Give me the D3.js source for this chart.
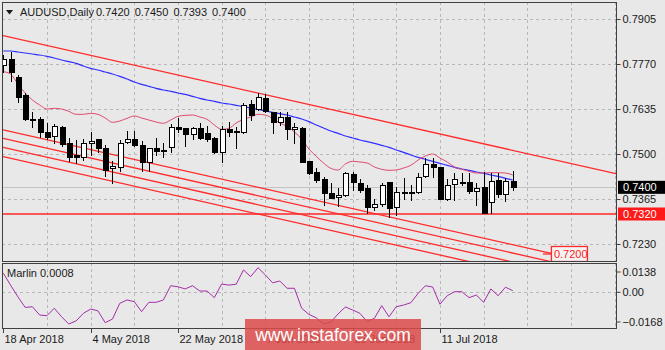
<!DOCTYPE html>
<html>
<head>
<meta charset="utf-8">
<script src="https://cdn.jsdelivr.net/npm/d3@7"></script>
<style>
  html, body { margin: 0; padding: 0; background: #e8e8e8; }
  svg { display: block; font-family: "Liberation Sans", Arial, sans-serif; }
</style>
</head>
<body>
<svg id="chart" width="665" height="350"></svg>
<script>
// ---- AUDUSD daily candles, 18 Apr 2018 .. 25 Jul 2018 ----
const symbolName = "AUDUSD,Daily";
const opens  = [0.7767,0.7785,0.7732,0.7677,0.7606,0.7606,0.7566,0.7555,0.7580,0.7532,
                0.7497,0.7492,0.7532,0.7544,0.7517,0.7457,0.7460,0.7536,0.7545,0.7527,
                0.7475,0.7517,0.7511,0.7522,0.7582,0.7577,0.7560,0.7577,0.7562,0.7547,
                0.7505,0.7575,0.7570,0.7565,0.7650,0.7634,0.7667,0.7627,0.7597,0.7612,
                0.7574,0.7577,0.7480,0.7447,0.7425,0.7384,0.7370,0.7377,0.7440,0.7412,
                0.7397,0.7342,0.7350,0.7417,0.7342,0.7385,0.7384,0.7385,0.7434,0.7470,
                0.7460,0.7364,0.7409,0.7415,0.7417,0.7389,0.7400,0.7357,0.7422,0.7380,
                0.7420];
const highs  = [0.7797,0.7807,0.7737,0.7682,0.7626,0.7610,0.7592,0.7590,0.7584,0.7547,
                0.7542,0.7545,0.7566,0.7546,0.7527,0.7480,0.7542,0.7570,0.7570,0.7539,
                0.7519,0.7549,0.7532,0.7590,0.7609,0.7577,0.7582,0.7594,0.7584,0.7550,
                0.7584,0.7595,0.7582,0.7654,0.7662,0.7682,0.7680,0.7627,0.7627,0.7627,
                0.7592,0.7580,0.7480,0.7457,0.7432,0.7412,0.7397,0.7447,0.7447,0.7424,
                0.7407,0.7364,0.7412,0.7417,0.7402,0.7427,0.7407,0.7444,0.7487,0.7487,
                0.7460,0.7424,0.7442,0.7442,0.7442,0.7412,0.7445,0.7442,0.7442,0.7427,
                0.7450];
const lows   = [0.7746,0.7720,0.7655,0.7602,0.7580,0.7552,0.7544,0.7532,0.7524,0.7480,
                0.7474,0.7482,0.7497,0.7507,0.7434,0.7414,0.7450,0.7532,0.7524,0.7450,
                0.7450,0.7497,0.7490,0.7505,0.7567,0.7525,0.7544,0.7544,0.7539,0.7502,
                0.7477,0.7555,0.7517,0.7562,0.7602,0.7632,0.7625,0.7562,0.7587,0.7545,
                0.7532,0.7475,0.7440,0.7417,0.7347,0.7369,0.7344,0.7375,0.7392,0.7386,
                0.7324,0.7332,0.7344,0.7312,0.7317,0.7364,0.7362,0.7382,0.7432,0.7430,
                0.7364,0.7362,0.7362,0.7407,0.7382,0.7347,0.7322,0.7322,0.7372,0.7360,
                0.7393];
const closes = [0.7785,0.7745,0.7672,0.7604,0.7604,0.7565,0.7552,0.7584,0.7530,0.7490,
                0.7492,0.7532,0.7540,0.7519,0.7452,0.7464,0.7532,0.7545,0.7526,0.7477,
                0.7517,0.7510,0.7510,0.7582,0.7574,0.7560,0.7577,0.7549,0.7546,0.7505,
                0.7575,0.7567,0.7569,0.7647,0.7617,0.7670,0.7629,0.7597,0.7612,0.7575,
                0.7580,0.7477,0.7442,0.7422,0.7382,0.7369,0.7378,0.7444,0.7417,0.7392,
                0.7340,0.7350,0.7407,0.7337,0.7385,0.7383,0.7386,0.7430,0.7470,0.7460,
                0.7364,0.7407,0.7424,0.7416,0.7390,0.7399,0.7324,0.7419,0.7380,0.7420,
                0.7400];

// slow moving average (blue)
const maSlow = [0.7809,0.7809,0.7806,0.7803,0.7800,0.7797,0.7793,0.7788,0.7782,0.7777,
                0.7772,0.7764,0.7757,0.7752,0.7746,0.7740,0.7733,0.7725,0.7716,0.7709,
                0.7703,0.7697,0.7692,0.7688,0.7683,0.7679,0.7673,0.7667,0.7662,0.7658,
                0.7653,0.7650,0.7646,0.7642,0.7638,0.7634,0.7629,0.7625,0.7621,0.7617,
                0.7611,0.7605,0.7597,0.7587,0.7578,0.7569,0.7562,0.7554,0.7548,0.7542,
                0.7537,0.7532,0.7526,0.7520,0.7512,0.7505,0.7497,0.7490,0.7484,0.7478,
                0.7472,0.7466,0.7460,0.7455,0.7451,0.7446,0.7442,0.7437,0.7433,0.7427,
                0.7422];
// fast moving average (pink)
const maFast = [0.7747,0.7740,0.7710,0.7683,0.7662,0.7647,0.7635,0.7637,0.7635,0.7628,
                0.7619,0.7619,0.7622,0.7619,0.7608,0.7595,0.7599,0.7607,0.7614,0.7608,
                0.7602,0.7596,0.7592,0.7602,0.7613,0.7616,0.7617,0.7611,0.7604,0.7587,
                0.7574,0.7577,0.7593,0.7604,0.7611,0.7619,0.7617,0.7607,0.7593,0.7583,
                0.7566,0.7545,0.7515,0.7493,0.7473,0.7457,0.7452,0.7470,0.7478,0.7476,
                0.7473,0.7461,0.7454,0.7451,0.7452,0.7458,0.7466,0.7482,0.7494,0.7500,
                0.7488,0.7476,0.7461,0.7454,0.7448,0.7443,0.7443,0.7444,0.7444,0.7443,
                0.7437];
// Marlin oscillator
const marlin = [0.0090,0.0034,-0.0021,-0.0071,-0.0068,-0.0107,-0.0110,-0.0075,-0.0115,-0.0149,
                -0.0135,-0.0099,-0.0079,-0.0087,-0.0143,-0.0126,-0.0052,-0.0036,-0.0044,-0.0091,
                -0.0047,-0.0047,-0.0036,0.0031,0.0026,0.0016,0.0031,0.0006,0.0006,-0.0025,
                0.0039,0.0034,0.0038,0.0105,0.0074,0.0116,0.0082,0.0045,0.0053,0.0019,
                0.0019,-0.0075,-0.0104,-0.0120,-0.0149,-0.0140,-0.0102,-0.0069,-0.0083,-0.0099,
                -0.0138,-0.0122,-0.0063,-0.0115,-0.0068,-0.0060,-0.0049,-0.0005,0.0031,0.0025,
                -0.0056,-0.0016,0.0003,0.0003,-0.0025,-0.0013,-0.0047,0.0016,-0.0016,0.0024,
                0.0008];

const priceTicks  = [0.7905, 0.7770, 0.7635, 0.7500, 0.7365, 0.7230];
const marlinTicks = [0.0138, 0.00, -0.0168];
const dateTickLabels = ["18 Apr 2018", "4 May 2018", "22 May 2018", "7 Jun 2018", "25 Jun 2018", "11 Jul 2018"];

const bidPrice = 0.7400;
const supportLevel = 0.7320;
const targetLevel = 0.7200;
// trend channel: [bar, price] anchor pairs
const channelUpper = [[0, 0.7855], [84, 0.7442]];
const channelLower = [
  [[0, 0.7572], [84, 0.7159]],
  [[0, 0.7547], [84, 0.7134]],
  [[0, 0.7520], [84, 0.7107]],
  [[0, 0.7492], [84, 0.7079]]
];
const targetBar = 74.7;

// ---- trading-day calendar (weekdays) ----
const fmtDay = d3.utcFormat("%-d %b %Y");
const days = d3.utcDays(new Date(Date.UTC(2018, 3, 18)), new Date(Date.UTC(2018, 6, 26)))
  .filter(d => d.getUTCDay() !== 0 && d.getUTCDay() !== 6);
const bars = days.map((d, i) => ({
  i, date: d, o: opens[i], h: highs[i], l: lows[i], c: closes[i]
}));

// ---- layout ----
const plotL = 2, plotR = 617;
const mainT = 2, mainB = 261;
const indT = 263, indB = 328;

const x  = d3.scaleLinear().domain([0, 84]).range([3.3, 614.6]);
const y  = d3.scaleLinear().domain([0.71790, 0.79560]).range([mainB, mainT]);
const yM = d3.scaleLinear().domain([-0.0168, 0.0138]).range([indB, indT]);

const svg = d3.select("#chart");
const bg = "#e8e8e8", gridCol = "#b8b8b8", frameCol = "#404040", textCol = "#1a1a1a";

svg.append("rect").attr("width", 665).attr("height", 350).attr("fill", bg);

const defs = svg.append("defs");
defs.append("clipPath").attr("id", "clipMain").append("rect")
  .attr("x", plotL).attr("y", mainT).attr("width", plotR - plotL).attr("height", mainB - mainT);
defs.append("clipPath").attr("id", "clipInd").append("rect")
  .attr("x", plotL).attr("y", indT).attr("width", plotR - plotL).attr("height", indB - indT);

const px = v => Math.round(v) + 0.5;

// ---- grid ----
const gridBars = d3.range(6, 85, 6);
const grid = svg.append("g").attr("stroke", gridCol).attr("stroke-dasharray", "3,3")
  .attr("shape-rendering", "crispEdges");
gridBars.forEach(b => {
  grid.append("line").attr("x1", px(x(b))).attr("x2", px(x(b))).attr("y1", mainT).attr("y2", mainB);
  grid.append("line").attr("x1", px(x(b))).attr("x2", px(x(b))).attr("y1", indT).attr("y2", indB);
});
priceTicks.forEach(p => {
  grid.append("line").attr("x1", plotL).attr("x2", plotR).attr("y1", px(y(p))).attr("y2", px(y(p)));
});
grid.append("line").attr("x1", plotL).attr("x2", plotR).attr("y1", px(yM(0))).attr("y2", px(yM(0)));

// ---- main panel ----
const main = svg.append("g").attr("clip-path", "url(#clipMain)");

// bid line
main.append("line").attr("x1", plotL).attr("x2", plotR)
  .attr("y1", px(y(bidPrice))).attr("y2", px(y(bidPrice)))
  .attr("stroke", "#c4c4c4").attr("shape-rendering", "crispEdges");

// support level
main.append("line").attr("x1", plotL).attr("x2", plotR)
  .attr("y1", y(supportLevel)).attr("y2", y(supportLevel))
  .attr("stroke", "#ff2828").attr("stroke-width", 1.3);

// trend channel lines, extended across the panel
function extLine(a, b) {
  const slope = (b[1] - a[1]) / (b[0] - a[0]);
  const b0 = x.invert(plotL), b1 = x.invert(plotR);
  return [[b0, a[1] + slope * (b0 - a[0])], [b1, a[1] + slope * (b1 - a[0])]];
}
const trend = d3.line().x(d => x(d[0])).y(d => y(d[1]));
main.append("path").attr("d", trend(extLine(...channelUpper)))
  .attr("fill", "none").attr("stroke", "#ff2a2a").attr("stroke-width", 1.3);
channelLower.forEach(seg => {
  main.append("path").attr("d", trend(extLine(...seg)))
    .attr("fill", "none").attr("stroke", "#ff2a2a").attr("stroke-width", 1.3);
});

// moving averages
const maLine = arr => d3.line().x((d, i) => x(i)).y(d => y(d)).curve(d3.curveMonotoneX)(arr);
main.append("path").attr("d", maLine(maSlow)).attr("fill", "none")
  .attr("stroke", "#2f2fff").attr("stroke-width", 1.2);
main.append("path").attr("d", maLine(maFast)).attr("fill", "none")
  .attr("stroke", "#e04a6c").attr("stroke-width", 1);

// candles
const candles = main.append("g").attr("shape-rendering", "crispEdges");
bars.forEach(b => {
  const cx = px(x(b.i));
  candles.append("line").attr("x1", cx).attr("x2", cx)
    .attr("y1", Math.round(y(b.h))).attr("y2", Math.round(y(b.l)) + 1)
    .attr("stroke", "#000");
  const top = Math.round(y(Math.max(b.o, b.c)));
  const bot = Math.round(y(Math.min(b.o, b.c)));
  const bull = b.c > b.o;
  candles.append("rect")
    .attr("x", cx - 2.5).attr("y", top + 0.5)
    .attr("width", 5).attr("height", Math.max(bot - top, 0.5))
    .attr("fill", bull ? "#ffffff" : "#000000")
    .attr("stroke", "#000");
});

// target price label at 0.7200
const tx = x(targetBar), ty = y(targetLevel);
main.append("line").attr("x1", tx - 4).attr("x2", tx + 5).attr("y1", ty).attr("y2", ty)
  .attr("stroke", "#ff2a2a").attr("stroke-width", 1.3);
main.append("rect").attr("x", tx + 4.5).attr("y", ty - 7.5).attr("width", 36).attr("height", 15)
  .attr("fill", "#f4f4f4").attr("stroke", "#ff2a2a").attr("stroke-width", 1.3);
main.append("text").attr("x", tx + 7).attr("y", ty + 4).attr("font-size", 11)
  .attr("fill", "#ff2020").text(d3.format(".4f")(targetLevel));

// ---- indicator panel ----
const ind = svg.append("g").attr("clip-path", "url(#clipInd)");
ind.append("path")
  .attr("d", d3.line().x((d, i) => x(i)).y(d => yM(d))(marlin))
  .attr("fill", "none").attr("stroke", "#a42ea8").attr("stroke-width", 1);
svg.append("text").attr("x", 7).attr("y", 277).attr("font-size", 11).attr("fill", textCol)
  .text("Marlin " + d3.format(".4f")(marlin[marlin.length - 1]));

// ---- frames ----
svg.append("rect").attr("x", plotL + 0.5).attr("y", mainT + 0.5)
  .attr("width", plotR - plotL - 1).attr("height", mainB - mainT)
  .attr("fill", "none").attr("stroke", frameCol).attr("shape-rendering", "crispEdges");
svg.append("rect").attr("x", plotL + 0.5).attr("y", indT + 0.5)
  .attr("width", plotR - plotL - 1).attr("height", indB - indT)
  .attr("fill", "none").attr("stroke", frameCol).attr("shape-rendering", "crispEdges");

// ---- price axis ----
const yAxis = d3.axisRight(y).tickValues(priceTicks).tickFormat(d3.format(".4f"))
  .tickSize(4).tickPadding(2);
const ya = svg.append("g").attr("transform", `translate(${plotR - 0.5},0)`).call(yAxis);
ya.select(".domain").remove();
ya.selectAll("line").attr("stroke", frameCol);
ya.selectAll("text").attr("font-size", 11).attr("fill", textCol)
  .attr("font-family", "Liberation Sans, Arial, sans-serif");

// price tags on the axis
function priceTag(p, fill) {
  const g = svg.append("g");
  g.append("rect").attr("x", plotR + 1).attr("y", y(p) - 6.5).attr("width", 47).attr("height", 13)
    .attr("fill", fill);
  g.append("text").attr("x", plotR + 6).attr("y", y(p) + 4).attr("font-size", 11)
    .attr("fill", "#ffffff").text(d3.format(".4f")(p));
}
priceTag(bidPrice, "#000000");
priceTag(supportLevel, "#ff1a1a");

// ---- Marlin axis ----
const mAxis = d3.axisRight(yM).tickValues(marlinTicks)
  .tickFormat(d => d === 0 ? "0.00" : d3.format(".4f")(d)).tickSize(4).tickPadding(2);
const ma = svg.append("g").attr("transform", `translate(${plotR - 0.5},0)`).call(mAxis);
ma.select(".domain").remove();
ma.selectAll("line").attr("stroke", frameCol);
ma.selectAll("text").attr("font-size", 11).attr("fill", textCol)
  .attr("font-family", "Liberation Sans, Arial, sans-serif");
// keep the extreme labels inside the panel height
ma.selectAll(".tick").attr("transform", d => {
  let ty = yM(d);
  if (d === marlinTicks[0]) ty += 9;
  if (d === marlinTicks[2]) ty -= 6;
  return `translate(0,${ty})`;
});

// ---- date axis ----
const dateTicks = bars.filter(b => dateTickLabels.includes(fmtDay(b.date)));
const da = svg.append("g");
dateTicks.forEach(b => {
  const tx0 = px(x(b.i));
  da.append("line").attr("x1", tx0).attr("x2", tx0).attr("y1", indB).attr("y2", indB + 5)
    .attr("stroke", frameCol).attr("shape-rendering", "crispEdges");
  da.append("text").attr("x", tx0 + 1).attr("y", 343).attr("font-size", 11)
    .attr("fill", textCol).text(fmtDay(b.date));
});

// ---- title ----
svg.append("path").attr("d", "M6,10 L13,10 L9.5,14.5 Z").attr("fill", "#1a1a1a");
svg.append("text").attr("x", 20).attr("y", 16).attr("font-size", 11).attr("fill", textCol)
  .text(symbolName);
svg.append("text").attr("x", 96).attr("y", 16).attr("font-size", 11).attr("fill", textCol)
  .attr("word-spacing", 2)
  .text([opens[70], highs[70], lows[70], closes[70]].map(d3.format(".4f")).join(" "));

// ---- site banner ----
svg.append("rect").attr("x", 245).attr("y", 319).attr("width", 176).attr("height", 31)
  .attr("fill", "#dc4a4a").attr("opacity", 0.85);
svg.append("text").attr("x", 333).attr("y", 341).attr("text-anchor", "middle")
  .attr("font-size", 17.5).attr("fill", "#ffffff").text("www.instaforex.com");
</script>
</body>
</html>
